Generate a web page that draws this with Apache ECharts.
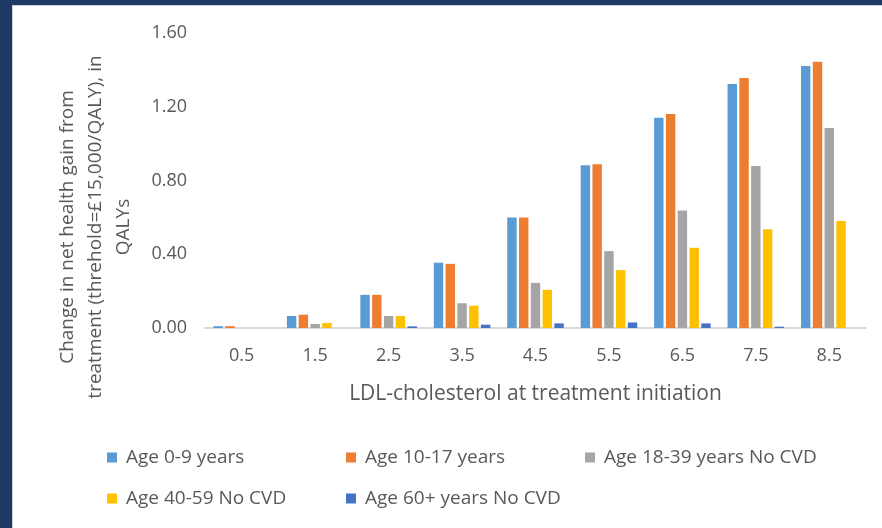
<!DOCTYPE html>
<html>
<head>
<meta charset="utf-8">
<script src="https://cdn.jsdelivr.net/npm/echarts@6/dist/echarts.min.js"></script>
<style>
  html, body { margin: 0; padding: 0; background: #1f3864; }
  .frame {
    position: absolute; left: 12px; top: 5px;
    width: 870px; height: 523px;
    background: #ffffff;
    box-shadow: inset 1px 1px 0 #c9cdd6;
  }
  #chart { width: 870px; height: 523px; }
</style>
</head>
<body>
<div class="frame"><div id="chart"></div></div>
<script>
// LDL-cholesterol levels (x axis)
const categories = ['0.5', '1.5', '2.5', '3.5', '4.5', '5.5', '6.5', '7.5', '8.5']

// change in net health gain, QALYs
const age0to9 = [0.01, 0.065, 0.18, 0.354, 0.599, 0.883, 1.141, 1.323, 1.421]
const age10to17 = [0.01, 0.072, 0.18, 0.348, 0.60, 0.888, 1.161, 1.356, 1.444]
const age18to39 = [0, 0.022, 0.065, 0.134, 0.245, 0.417, 0.637, 0.878, 1.085]
const age40to59 = [0, 0.027, 0.065, 0.121, 0.207, 0.314, 0.435, 0.536, 0.580]
const age60plus = [0, 0, 0.009, 0.018, 0.025, 0.030, 0.025, 0.007, 0]

const seriesNames = ['Age 0-9 years', 'Age 10-17 years', 'Age 18-39 years No CVD', 'Age 40-59 No CVD', 'Age 60+ years No CVD']
const colors = ['#5b9bd5', '#ed7d31', '#a5a5a5', '#ffc000', '#4472c4']
const values = [age0to9, age10to17, age18to39, age40to59, age60plus]

const textColor = '#595959'
const font = '"Open Sans", "Liberation Sans", sans-serif'

const myChart = echarts.init(document.getElementById('chart'))

// legend spots: two rows, three columns
const legendPos = [[90, 438], [329, 438], [568, 438], [90, 479], [329, 479]]

myChart.setOption({
  animation: false,
  textStyle: { fontFamily: font },
  grid: {
    left: 193,
    right: 16,
    top: 28,
    bottom: 200
  },
  legend: seriesNames.map((name, i) => ({
    data: [name],
    left: legendPos[i][0],
    top: legendPos[i][1],
    icon: 'rect',
    itemWidth: 10,
    itemHeight: 10,
    textStyle: { color: textColor, fontSize: 19, fontFamily: font, padding: [0, 0, 0, 4] }
  })),
  graphic: [
    {
      type: 'text',
      x: 84,
      y: 222,
      rotation: Math.PI / 2,
      style: {
        text: 'Change in net health gain from\ntreatment (threhold=£15,000/QALY), in\nQALYs',
        align: 'center',
        verticalAlign: 'middle',
        fill: textColor,
        font: '19px ' + font,
        lineHeight: 28
      }
    }
  ],
  xAxis: {
    type: 'category',
    data: categories,
    name: 'LDL-cholesterol at treatment initiation',
    nameLocation: 'middle',
    nameGap: 56,
    nameTextStyle: { color: textColor, fontSize: 21 },
    axisLine: { lineStyle: { color: '#d9d9d9', width: 2 } },
    axisTick: { show: false },
    axisLabel: { color: textColor, fontSize: 18, margin: 19 }
  },
  yAxis: {
    type: 'value',
    min: 0,
    max: 1.6,
    interval: 0.4,
    axisLine: { show: false },
    axisTick: { show: false },
    splitLine: { show: false },
    axisLabel: {
      color: textColor,
      fontSize: 18,
      margin: 18,
      formatter: v => v.toFixed(2)
    }
  },
  series: seriesNames.map((name, i) => ({
    name: name,
    type: 'bar',
    data: values[i],
    barGap: '25%',
    barCategoryGap: '23%',
    itemStyle: { color: colors[i] }
  }))
})
</script>
</body>
</html>
